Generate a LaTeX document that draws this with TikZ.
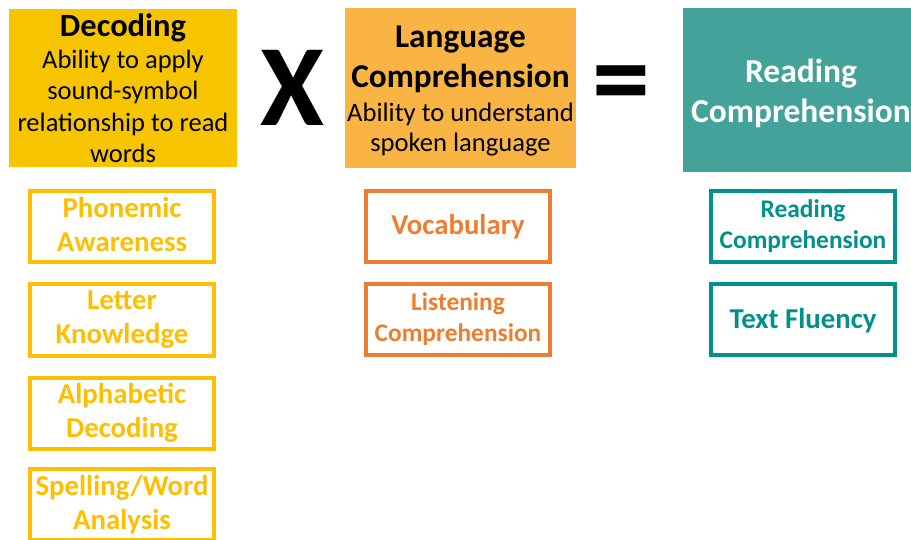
\documentclass[tikz,border=0pt]{standalone}
\usepackage{fontspec}
\setmainfont{Carlito}
\definecolor{decfill}{HTML}{F7C500}
\definecolor{langfill}{HTML}{F9B444}
\definecolor{readfill}{HTML}{43A39A}
\definecolor{decline}{HTML}{FFBF00}
\definecolor{langline}{HTML}{ED7D31}
\definecolor{readline}{HTML}{00908D}
\newcommand{\topstrut}[1]{\rule{0pt}{#1pt}}
\newcommand{\botstrut}[1]{\rule[-#1pt]{0pt}{#1pt}}
\begin{document}
\begin{tikzpicture}[x=1pt,y=-1pt,
  bigbox/.style={rectangle, inner sep=0pt, align=center},
  subbox/.style={rectangle, draw, line width=4pt, minimum width=184pt, minimum height=71pt,
    inner sep=0pt, align=center, font=\bfseries\fontsize{28.8}{34}\selectfont,
    execute at begin node={\topstrut{22}}, execute at end node={\botstrut{5}}},
  smalltext/.style={font=\bfseries\fontsize{25.4}{31.5}\selectfont},
  decsub/.style={subbox, draw=decline, text=decline},
  langsub/.style={subbox, draw=langline, text=langline},
  readsub/.style={subbox, draw=readline, text=readline},
  opsign/.style={inner sep=0pt, font=\bfseries\fontsize{116}{116}\selectfont}]
\useasboundingbox (0,0) rectangle (911,540);
\clip (0,0) rectangle (911,540);
% top boxes
\node[bigbox, fill=decfill, minimum width=228pt, minimum height=158pt,
  font=\fontsize{26.5}{31.5}\selectfont] (dec) at (123,88)
  {\topstrut{26}{\bfseries\fontsize{32.5}{31.5}\selectfont Decoding}\\Ability to apply\\sound-symbol\\relationship to read\\words\botstrut{2}};
\node[opsign] (times) at (292,87.5) {X};
\node[bigbox, fill=langfill, minimum width=231pt, minimum height=160pt,
  font=\fontsize{26.6}{30}\selectfont] (lang) at (460.5,88)
  {\topstrut{29}{\bfseries\fontsize{33.3}{30}\selectfont Language}\\[10pt]{\bfseries\fontsize{33.3}{30}\selectfont Comprehension}\\[4pt]Ability to understand\\spoken language\botstrut{5}};
\node[opsign] (equals) at (621,91.5) {=};
\node[bigbox, fill=readfill, minimum width=236pt, minimum height=164pt, text=white,
  font=\bfseries\fontsize{33.5}{40}\selectfont] (read) at (801,90)
  {\topstrut{30}Reading\\Comprehension\botstrut{4}};
% decoding components
\node[decsub] (pa) at (122,226.5) {Phonemic\\Awareness};
\node[decsub] (lk) at (122,320) {Letter\\Knowledge};
\node[decsub] (ad) at (122,413) {Alphabetic\\Decoding};
\node[decsub] (sw) at (122,504.5) {Spelling/Word\\Analysis};
% language components
\node[langsub] (voc) at (458,226.5) {Vocabulary};
\node[langsub, smalltext] (lc) at (458,319.5) {Listening\\Comprehension};
% reading components
\node[readsub, smalltext] (rc) at (803,226.5) {Reading\\Comprehension};
\node[readsub] (tf) at (803,319.5) {Text Fluency};
\end{tikzpicture}
\end{document}
